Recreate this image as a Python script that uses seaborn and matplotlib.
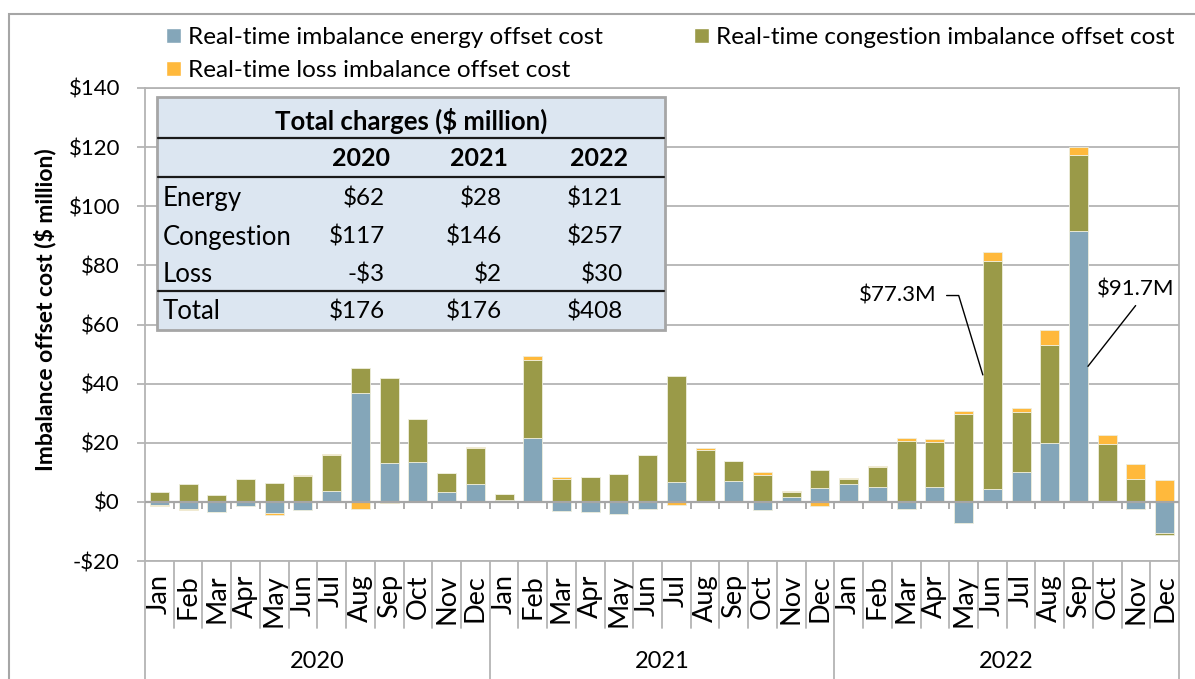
import numpy as np
import pandas as pd
import matplotlib.pyplot as plt
import seaborn as sns
from matplotlib.patches import Patch, Rectangle
from matplotlib.lines import Line2D
from matplotlib.transforms import blended_transform_factory

YEARS = ["2020", "2021", "2022"]
MONTHS = ["Jan", "Feb", "Mar", "Apr", "May", "Jun",
          "Jul", "Aug", "Sep", "Oct", "Nov", "Dec"]

# $ million per month, Jan 2020 .. Dec 2022
energy = [-1.0, -2.5, -3.4, -1.5, -3.9, -2.6, 3.8, 36.7, 13.0, 13.6, 3.5, 5.9,
          0.8, 21.7, -3.2, -3.4, -4.2, -2.5, 6.8, 0.1, 7.1, -2.7, 1.8, 4.7,
          6.2, 5.1, -2.3, 5.2, -7.2, 4.3, 10.2, 19.8, 91.7, 0.2, -2.5, -10.4]
congestion = [3.3, 6.1, 2.4, 7.6, 6.3, 8.9, 12.2, 8.7, 28.8, 14.3, 6.1, 12.2,
              1.7, 26.3, 7.7, 8.3, 9.4, 15.9, 35.8, 17.6, 6.6, 9.0, 1.5, 6.0,
              1.7, 6.7, 20.5, 15.1, 29.7, 77.3, 20.2, 33.2, 25.8, 19.5, 7.8, -0.9]
loss = [-0.3, -0.2, -0.1, 0.1, -0.4, 0.1, 0.3, -2.3, -0.5, 0.1, 0.1, 0.5,
        0.2, 1.5, 0.6, 0.1, 0.1, 0.1, -1.1, 0.5, 0.1, 1.0, 0.3, -1.4,
        0.1, 0.2, 1.0, 0.9, 1.2, 3.0, 1.2, 5.1, 2.5, 2.9, 4.9, 7.3]

series_names = ["Real-time imbalance energy offset cost",
                "Real-time congestion imbalance offset cost",
                "Real-time loss imbalance offset cost"]
series_colors = ["#84A6B9", "#9A9A48", "#FFB93C"]

table_title = "Total charges ($ million)"
table_rows = ["Energy", "Congestion", "Loss", "Total"]
table_energy = ["$62", "$28", "$121"]
table_congestion = ["$117", "$146", "$257"]
table_loss = ["-$3", "$2", "$30"]
table_total = ["$176", "$176", "$408"]

BAR_W = 0.66
GRID = "#B4B4B4"
W, H = 1195, 679


def fx(px):
    return px / W


def fy(py):
    return 1 - py / H


sns.set_theme(style="white")
plt.rcParams["font.family"] = ["Lato", "DejaVu Sans"]
plt.rcParams["text.color"] = "black"
plt.rcParams["axes.labelcolor"] = "black"

periods = [f"{y}-{m}" for y in YEARS for m in MONTHS]
df = pd.DataFrame({"period": periods, "energy": energy,
                   "congestion": congestion, "loss": loss})

fig = plt.figure(figsize=(W / 100, H / 100), dpi=100)
ax = fig.add_axes([fx(145), fy(561), fx(1179) - fx(145), fy(88) - fy(561)])

# Excel-style stacking: positives go up, negatives go down
pos_base = np.zeros(len(df))
neg_base = np.zeros(len(df))
for col, color in zip(["energy", "congestion", "loss"], series_colors):
    vals = df[col].to_numpy()
    bottom = np.where(vals >= 0, pos_base, neg_base)
    sns.barplot(data=df, x="period", y=col, bottom=bottom, color=color,
                saturation=1, width=BAR_W, errorbar=None, edgecolor="#EEEEDD",
                linewidth=0.6, ax=ax, zorder=2)
    pos_base = pos_base + np.where(vals >= 0, vals, 0)
    neg_base = neg_base + np.where(vals < 0, vals, 0)

ax.set_xlim(-0.5, len(df) - 0.5)
ax.set_ylim(-20, 140)
ax.set_xticks([])
ax.set_xlabel("")
ax.set_yticks(range(-20, 141, 20))
ax.set_yticklabels([f"-${abs(v)}" if v < 0 else f"${v}" for v in range(-20, 141, 20)])
ax.tick_params(axis="y", direction="out", length=6, width=1.3, color=GRID,
               labelsize=16, labelcolor="black", pad=12, left=True)
ax.yaxis.grid(True, color=GRID, lw=1.3, zorder=0)
ax.set_axisbelow(True)
for sp in ax.spines.values():
    sp.set_color(GRID)
    sp.set_linewidth(1.3)

ax.axhline(0, color="#A6A6A6", lw=1.6, zorder=3)
ax.vlines(np.arange(0.5, len(df) - 1), -2.3, 0, color="#A6A6A6", lw=1.3, zorder=3)

ax.set_ylabel("Imbalance offset cost ($ million)", fontsize=16.5,
              fontweight="bold", va="center")
ax.yaxis.set_label_coords(-0.0967, 0.531)

# multi-level category axis
trans = blended_transform_factory(ax.transData, ax.transAxes)
for i in range(len(df) + 1):
    x = i - 0.5
    low = -0.4 if i % 12 == 0 else -0.1416
    ax.add_line(Line2D([x, x], [0, low], transform=trans, color=GRID,
                       lw=1.3, clip_on=False))
for i, p in enumerate(periods):
    ax.text(i, -0.028, MONTHS[i % 12], transform=trans, rotation=90,
            ha="center", va="top", fontsize=19.5)
for j, yr in enumerate(YEARS):
    ax.text(j * 12 + 5.5, -0.2135, yr, transform=trans, ha="center",
            va="center", fontsize=17)

# callouts
jun = YEARS.index("2022") * 12 + MONTHS.index("Jun")
jy = 69.8
ax.plot([jun - 1.59, jun - 1.17, jun - BAR_W / 2],
        [jy, jy, energy[jun] + congestion[jun] * 0.5], color="black", lw=1, zorder=4)
ax.text(jun - 1.94, jy, f"${congestion[jun]}M", ha="right", va="center", fontsize=16)

sep = YEARS.index("2022") * 12 + MONTHS.index("Sep")
ax.plot([sep + 1.99, sep + BAR_W / 2], [66.4, energy[sep] * 0.5],
        color="black", lw=1, zorder=4)
ax.text(sep + 1.99, 71.9, f"${energy[sep]}M", ha="center", va="center", fontsize=16)

# summary table
fig.patches.append(Rectangle((fx(157), fy(330)), fx(665) - fx(157), fy(97) - fy(330),
                             transform=fig.transFigure, facecolor="#DCE6F1",
                             edgecolor="#A6A6A6", lw=2, zorder=5))
for py in [138, 177, 291]:
    fig.lines.append(Line2D([fx(158), fx(664)], [fy(py), fy(py)],
                            transform=fig.transFigure, color="#1A1A1A", lw=1.6, zorder=6))
fig.text(fx(411), fy(121), table_title, ha="center", va="center",
         fontsize=18.5, fontweight="bold", zorder=7)
for x, yr in zip([390, 508, 628], YEARS):
    fig.text(fx(x), fy(159), yr, ha="right", va="center", fontsize=18,
             fontweight="bold", zorder=7)
for py, name, vals in zip([198, 237, 274, 312], table_rows,
                          [table_energy, table_congestion, table_loss, table_total]):
    fig.text(fx(163), fy(py), name, ha="left", va="center", fontsize=18.5, zorder=7)
    for x, v in zip([385, 502, 623], vals):
        fig.text(fx(x), fy(py), v, ha="right", va="center", fontsize=17.5, zorder=7)

# legend
handles = [Patch(facecolor=series_colors[k], label=series_names[k]) for k in (0, 2, 1)]
fig.legend(handles=handles, loc="upper left", bbox_to_anchor=(fx(166), fy(27)),
           ncol=2, frameon=False, fontsize=17.5, handlelength=0.62, handleheight=0.62,
           handletextpad=0.29, columnspacing=3.75, labelspacing=0.5,
           borderpad=0, borderaxespad=0)

# chart frame
fig.patches.append(Rectangle((fx(9), -0.1), 1.2, fy(14) + 0.1, transform=fig.transFigure,
                             fill=False, edgecolor="#A6A6A6", lw=1.5))

fig.savefig("out.png", dpi=100)
